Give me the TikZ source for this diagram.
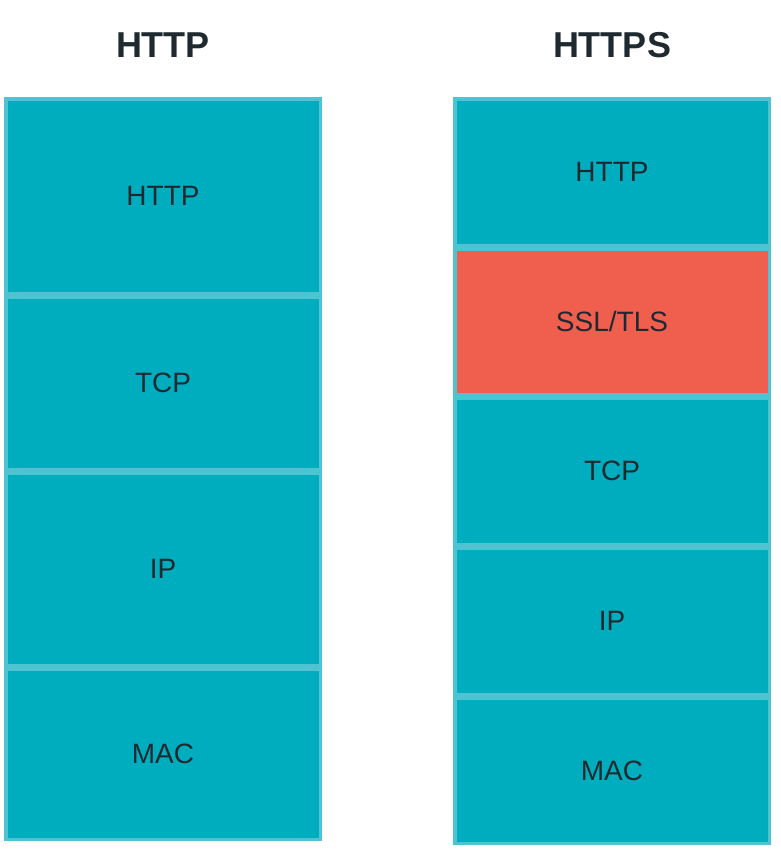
\documentclass[tikz,border=0pt]{standalone}
\usepackage{fontspec}
\setmainfont{Liberation Sans}
\definecolor{layerteal}{HTML}{00ADBF}
\definecolor{bandteal}{HTML}{4EC4D2}
\definecolor{layerred}{HTML}{F05E4E}
\definecolor{labelink}{HTML}{1E2A30}
\begin{document}
\begin{tikzpicture}
[x=1pt,y=-1pt,
  layerdecorate/.style={shape=rectangle,inner sep=0pt,fill=layerteal,
    text=labelink,minimum width=311pt,font=\fontsize{28}{32}\selectfont},%
  titledecorate/.style={text=labelink,font=\fontsize{36}{42}\selectfont\bfseries}]
\useasboundingbox (0,0) rectangle (780,849);
%% titles
\node (titlehttp) at (163,45) [titledecorate] {HTTP};
\node (titlehttps) at (612,45) [titledecorate] {HTTPS};
%% column bands
\fill[bandteal] (4,97) rectangle (322,841);
\fill[bandteal] (453,97) rectangle (771,845);
%% left stack
\foreach \nodename/\label/\top/\bot in {
  lhttp/HTTP/97/295, ltcp/TCP/295/471, lip/IP/471/667, lmac/MAC/667/841}
{
  \node (\nodename) at (163,{(\top+\bot)/2}) [layerdecorate,
    minimum height={\bot-\top-7}] {\label};
}
%% right stack
\foreach \nodename/\label/\top/\bot/\shade in {
  rhttp/HTTP/97/247/layerteal, rssl/SSL\slash TLS/247/396/layerred,
  rtcp/TCP/396/546/layerteal, rip/IP/546/696/layerteal,
  rmac/MAC/696/845/layerteal}
{
  \node (\nodename) at (612,{(\top+\bot)/2}) [layerdecorate,fill=\shade,
    minimum height={\bot-\top-7}] {\label};
}
\end{tikzpicture}
\end{document}
